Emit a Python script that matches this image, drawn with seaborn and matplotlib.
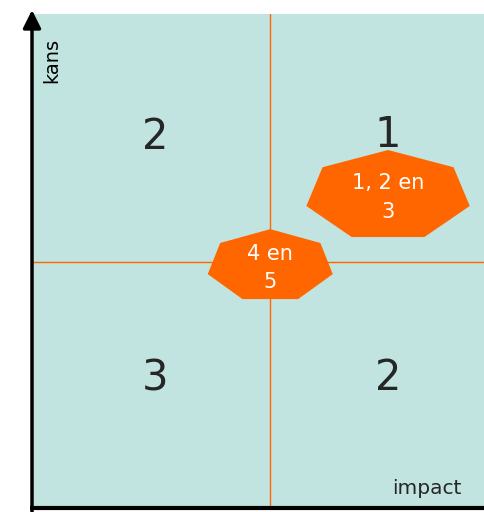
import numpy as np
import seaborn as sns
import matplotlib.pyplot as plt

# Kwadranten (kans x impact), posities in assen-eenheden 0..1
kwadrant_labels = ["2", "1", "3", "2"]
kwadrant_x = [0.272, 0.786, 0.272, 0.786]
kwadrant_y = [0.751, 0.755, 0.263, 0.263]

# Risico-bollen (zevenhoeken)
bol_labels = ["1, 2 en\n3", "4 en\n5"]
bol_x = [0.786, 0.526]
bol_y = [0.632, 0.490]
bol_rx = [0.185, 0.1415]
bol_ry = [0.0927, 0.0745]

# Kruislijnen
kruis_x = 0.525
kruis_y = 0.498

achtergrond = "#c1e4e0"
oranje = "#ff6600"
tekst_kleur = "#262626"

sns.set_theme(style="white")
plt.rcParams['font.family'] = ['DejaVu Sans']

fig = plt.figure(figsize=(4.85, 5.12), dpi=100)
ax = fig.add_axes([32 / 485, 4 / 512, 453 / 485, 494 / 512])
ax.set_facecolor(achtergrond)
ax.set_xlim(0, 1)
ax.set_ylim(0, 1)
ax.set_xticks([])
ax.set_yticks([])
sns.despine(ax=ax, left=True, bottom=True)

# kruislijnen
ax.axvline(kruis_x, color=oranje, linewidth=1, zorder=1)
ax.axhline(kruis_y, color=oranje, linewidth=1, zorder=1)

# kwadrant nummers
for lab, x, y in zip(kwadrant_labels, kwadrant_x, kwadrant_y):
    ax.text(x, y, lab, fontsize=30, color=tekst_kleur, ha="center", va="center", zorder=2)

# zevenhoeken
hoeken = np.pi / 2 + np.arange(7) * 2 * np.pi / 7
for lab, x, y, rx, ry in zip(bol_labels, bol_x, bol_y, bol_rx, bol_ry):
    ax.fill(x + rx * np.cos(hoeken), y + ry * np.sin(hoeken), color=oranje, zorder=3, lw=0)
    ax.text(x, y - 0.004, lab, fontsize=15, color="white", ha="center", va="center",
            linespacing=1.55, zorder=4)

# assen met pijl
ax.annotate("", xy=(0, 1.008), xytext=(0, -0.01), xycoords="axes fraction",
            arrowprops=dict(arrowstyle="-|>,head_length=0.9,head_width=0.45",
                            color="black", lw=2.5, shrinkA=0, shrinkB=0),
            annotation_clip=False)
ax.plot([-0.005, 1], [0, 0], color="black", lw=3, clip_on=False, solid_capstyle="butt")

ax.text(0.044, 0.905, "kans", rotation=90, fontsize=14, color="black",
        ha="center", va="center", transform=ax.transAxes)
ax.text(0.872, 0.04, "impact", fontsize=14.5, color=tekst_kleur,
        ha="center", va="center", transform=ax.transAxes)

fig.savefig("out.png", dpi=100)
